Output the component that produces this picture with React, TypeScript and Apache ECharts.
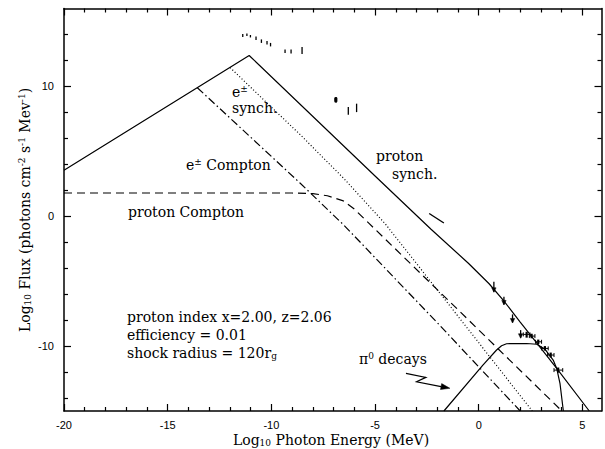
import React, { useEffect, useRef } from "react";
import * as echarts from "echarts";

// ---- axis ranges & ticks ----
const X_MIN = -20;
const X_MAX = 5.92;
const Y_MIN = -15;
const Y_MAX = 16;
const xMajorTicks = [-20, -15, -10, -5, 0, 5];
const xMinorTicks = [-19, -18, -17, -16, -14, -13, -12, -11, -9, -8, -7, -6, -4, -3, -2, -1, 1, 2, 3, 4];
const yMajorTicks = [-10, 0, 10];
const yMinorTicks = [-14, -12, -8, -6, -4, -2, 2, 4, 6, 8, 12, 14];

// ---- model curves (log10 E, log10 flux) ----
const protonSynch = [
  [-20, 3.54], [-11.07, 12.38], [-5, 3.1], [-2.3, -1.0], [-0.5, -3.62], [0.5, -5.2],
  [1.2, -6.5], [2.0, -8.15], [2.47, -9.1], [3.76, -11.72], [5.33, -15],
];
const eSynch = [
  [-11.99, 11.45], [-10, 8.4], [-8.62, 6.3], [-6.5, 2.9], [-4.5, -0.6], [-1, -7.7], [2.58, -15],
];
const eCompton = [
  [-13.57, 9.9], [-8.62, 2.56], [-6.5, -0.69], [-2, -8.2], [2.0, -15],
];
const protonCompton = [
  [-20, 1.79], [-9, 1.79], [-8, 1.74], [-7.3, 1.58], [-6.53, 1.18], [-6, 0.55],
  [-5.29, -0.55], [-1, -7.2], [4.01, -15],
];
const pionDecay = [
  [-1.68, -15], [0.2, -11.46], [0.86, -10.3], [1.1, -9.98], [1.34, -9.82], [2.31, -9.8],
  [2.8, -9.86], [3.2, -10.25], [3.59, -11.08], [3.76, -11.72], [3.92, -12.9], [4.08, -15],
];

// ---- observations ----
// [x, yLow, yHigh]
const opticalBars = [
  [-11.38, 13.81, 14.04], [-11.18, 13.88, 14.08], [-11.01, 13.77, 13.96], [-10.74, 13.58, 13.85],
  [-10.48, 13.35, 13.62], [-10.21, 13.23, 13.5], [-10.04, 13.08, 13.35], [-9.34, 12.58, 12.85],
  [-9.05, 12.54, 12.85], [-8.52, 12.5, 13.04],
];
const uvBars = [
  [-6.29, 7.82, 8.41], [-5.89, 8.02, 8.67],
];
// [x, y, xLow, xHigh, yLow, yHigh]
const uvPoint = [[-6.89, 8.97, -6.94, -6.84, 8.75, 9.18]];
const xraySegment = [[-2.39, 0.21], [-1.68, -0.52]];
// upper limits: [x, yTop, yBottom]
const upperLimits = [
  [0.73, -5.05, -5.82], [1.215, -6.21, -6.79], [1.63, -7.56, -8.18], [2.02, -8.77, -9.36],
];
const gammaPoints = [
  [2.31, -9.1, 2.15, 2.47, -8.9, -9.35], [2.55, -9.23, 2.44, 2.71, -9.05, -9.4],
  [2.87, -9.67, 2.74, 3.03, -9.5, -9.85], [3.19, -10.18, 3.03, 3.35, -10.0, -10.35],
  [3.47, -10.69, 3.32, 3.63, -10.5, -10.88], [3.83, -11.85, 3.63, 4.05, -11.65, -12.05],
];
const pionArrow = [[-3.51, -12.1], [-2.55, -12.41], [-3.0, -12.75], [-1.39, -13.25]];

const BLACK = "#000";
const SERIF = "DejaVu Serif";
const SANS = "Liberation Sans";

function xAxisDef(position: string, ticks: number[], len: number, major: boolean) {
  return {
    type: "value",
    position,
    min: X_MIN,
    max: X_MAX,
    axisLine: { show: major, onZero: false, lineStyle: { color: BLACK, width: 1.5 } },
    axisTick: { show: true, inside: true, length: len, customValues: ticks, lineStyle: { color: BLACK, width: 1.2 } },
    axisLabel: {
      show: major && position === "bottom",
      customValues: ticks,
      color: BLACK,
      fontFamily: SANS,
      fontSize: 11,
      margin: 8,
    },
    splitLine: { show: false },
  };
}
function yAxisDef(position: string, ticks: number[], len: number, major: boolean) {
  return {
    type: "value",
    position,
    min: Y_MIN,
    max: Y_MAX,
    axisLine: { show: major, onZero: false, lineStyle: { color: BLACK, width: 1.5 } },
    axisTick: { show: true, inside: true, length: len, customValues: ticks, lineStyle: { color: BLACK, width: 1.2 } },
    axisLabel: {
      show: major && position === "left",
      customValues: ticks,
      color: BLACK,
      fontFamily: SANS,
      fontSize: 11,
      margin: 10,
    },
    splitLine: { show: false },
  };
}

function curve(data: number[][], type: any, width = 1.2) {
  return {
    type: "line",
    xAxisIndex: 0,
    yAxisIndex: 0,
    data,
    symbol: "none",
    showSymbol: false,
    silent: true,
    lineStyle: { color: BLACK, width, type },
  };
}

const rich = {
  sup: { fontFamily: SERIF, fontSize: 9, lineHeight: 9, verticalAlign: "top", color: BLACK },
  sub: { fontFamily: SERIF, fontSize: 9, lineHeight: 7, verticalAlign: "bottom", color: BLACK },
};

function label(text: string, x: number, y: number, extra: any = {}) {
  return {
    type: "text",
    x,
    y,
    silent: true,
    ...extra,
    style: {
      text,
      fontFamily: SERIF,
      fontSize: 14,
      lineHeight: 15,
      fill: BLACK,
      align: extra.align || "left",
      verticalAlign: "middle",
      rich,
    },
  };
}

const stroke = { stroke: BLACK, lineWidth: 1.2, fill: null };

const option: any = {
  animation: false,
  backgroundColor: "#fff",
  grid: { left: 64, right: 3.5, top: 8.5, bottom: 38, containLabel: false },
  xAxis: [
    xAxisDef("bottom", xMajorTicks, 7, true),
    xAxisDef("bottom", xMinorTicks, 4, false),
    xAxisDef("top", xMajorTicks, 7, true),
    xAxisDef("top", xMinorTicks, 4, false),
  ],
  yAxis: [
    yAxisDef("left", yMajorTicks, 7, true),
    yAxisDef("left", yMinorTicks, 4, false),
    yAxisDef("right", yMajorTicks, 7, true),
    yAxisDef("right", yMinorTicks, 4, false),
  ],
  series: [
    curve(protonSynch, "solid"),
    curve(eSynch, [1, 2.2]),
    curve(eCompton, [8, 3, 1.5, 3]),
    curve(protonCompton, [8, 5]),
    curve(pionDecay, "solid"),
    curve(xraySegment, "solid", 1.4),
    {
      type: "custom",
      xAxisIndex: 0,
      yAxisIndex: 0,
      silent: true,
      data: [...opticalBars, ...uvBars],
      renderItem: (_p: any, api: any) => {
        const x = api.value(0);
        const a = api.coord([x, api.value(1)]);
        const b = api.coord([x, api.value(2)]);
        return { type: "line", shape: { x1: a[0], y1: a[1], x2: b[0], y2: b[1] }, style: { ...stroke, lineWidth: 1.3 } };
      },
    },
    {
      type: "custom",
      xAxisIndex: 0,
      yAxisIndex: 0,
      silent: true,
      data: upperLimits,
      renderItem: (_p: any, api: any) => {
        const x = api.value(0);
        const a = api.coord([x, api.value(1)]);
        const b = api.coord([x, api.value(2)]);
        return {
          type: "group",
          children: [
            { type: "line", shape: { x1: a[0], y1: a[1], x2: b[0], y2: b[1] }, style: { ...stroke, lineWidth: 1.3 } },
            {
              type: "polygon",
              shape: { points: [[b[0] - 2.2, b[1] - 4], [b[0] + 2.2, b[1] - 4], [b[0], b[1] + 0.5]] },
              style: { fill: BLACK, stroke: BLACK, lineWidth: 0.5 },
            },
          ],
        };
      },
    },
    {
      type: "custom",
      xAxisIndex: 0,
      yAxisIndex: 0,
      silent: true,
      data: [...gammaPoints, ...uvPoint],
      renderItem: (_p: any, api: any) => {
        const c = api.coord([api.value(0), api.value(1)]);
        const l = api.coord([api.value(2), api.value(1)]);
        const r = api.coord([api.value(3), api.value(1)]);
        const t = api.coord([api.value(0), api.value(4)]);
        const bt = api.coord([api.value(0), api.value(5)]);
        return {
          type: "group",
          children: [
            { type: "line", shape: { x1: l[0], y1: c[1], x2: r[0], y2: c[1] }, style: { ...stroke, lineWidth: 1 } },
            { type: "line", shape: { x1: l[0], y1: c[1] - 2, x2: l[0], y2: c[1] + 2 }, style: { ...stroke, lineWidth: 1 } },
            { type: "line", shape: { x1: r[0], y1: c[1] - 2, x2: r[0], y2: c[1] + 2 }, style: { ...stroke, lineWidth: 1 } },
            { type: "line", shape: { x1: c[0], y1: t[1], x2: c[0], y2: bt[1] }, style: { ...stroke, lineWidth: 2.2 } },
          ],
        };
      },
    },
    {
      type: "custom",
      xAxisIndex: 0,
      yAxisIndex: 0,
      silent: true,
      data: [[0]],
      renderItem: (_p: any, api: any) => {
        const pts = pionArrow.map((p) => api.coord(p));
        const n = pts.length;
        const tip = pts[n - 1];
        const prev = pts[n - 2];
        const dx = tip[0] - prev[0];
        const dy = tip[1] - prev[1];
        const len = Math.sqrt(dx * dx + dy * dy);
        const ux = dx / len;
        const uy = dy / len;
        const hx = tip[0] - ux * 9;
        const hy = tip[1] - uy * 9;
        return {
          type: "group",
          children: [
            { type: "polyline", shape: { points: pts.slice(0, n - 1).concat([[hx, hy]]) }, style: { ...stroke, lineWidth: 1.2 } },
            {
              type: "polygon",
              shape: { points: [tip, [hx - uy * 3, hy + ux * 3], [hx + uy * 3, hy - ux * 3]] },
              style: { fill: BLACK, stroke: BLACK, lineWidth: 0.5 },
            },
          ],
        };
      },
    },
  ],
  graphic: [
    label("e{sup|±}", 232, 92),
    label("synch.", 232, 108),
    label("e{sup|±} Compton", 186, 165),
    label("proton Compton", 128, 212),
    label("proton", 376, 156),
    label("synch.", 392, 174),
    label("proton index x=2.00, z=2.06", 127, 317),
    label("efficiency = 0.01", 127, 335),
    label("shock radius = 120r{sub|g}", 127, 353),
    label("π{sup|0} decays", 359, 359),
    label("Log{sub|10} Photon Energy (MeV)", 331, 440, { align: "center" }),
    label("Log{sub|10} Flux (photons cm{sup|-2} s{sup|-1} Mev{sup|-1})", 25, 210, {
      align: "center",
      rotation: Math.PI / 2,
    }),
  ],
};

export default function App() {
  const ref = useRef<HTMLDivElement>(null);
  useEffect(() => {
    const chart = echarts.init(ref.current as HTMLDivElement, null, { renderer: "svg" });
    chart.setOption(option);
    return () => chart.dispose();
  }, []);
  return (
    <div
      ref={ref}
      style={{ position: "absolute", left: 0, top: 0, width: 605, height: 449, background: "#fff" }}
    />
  );
}
